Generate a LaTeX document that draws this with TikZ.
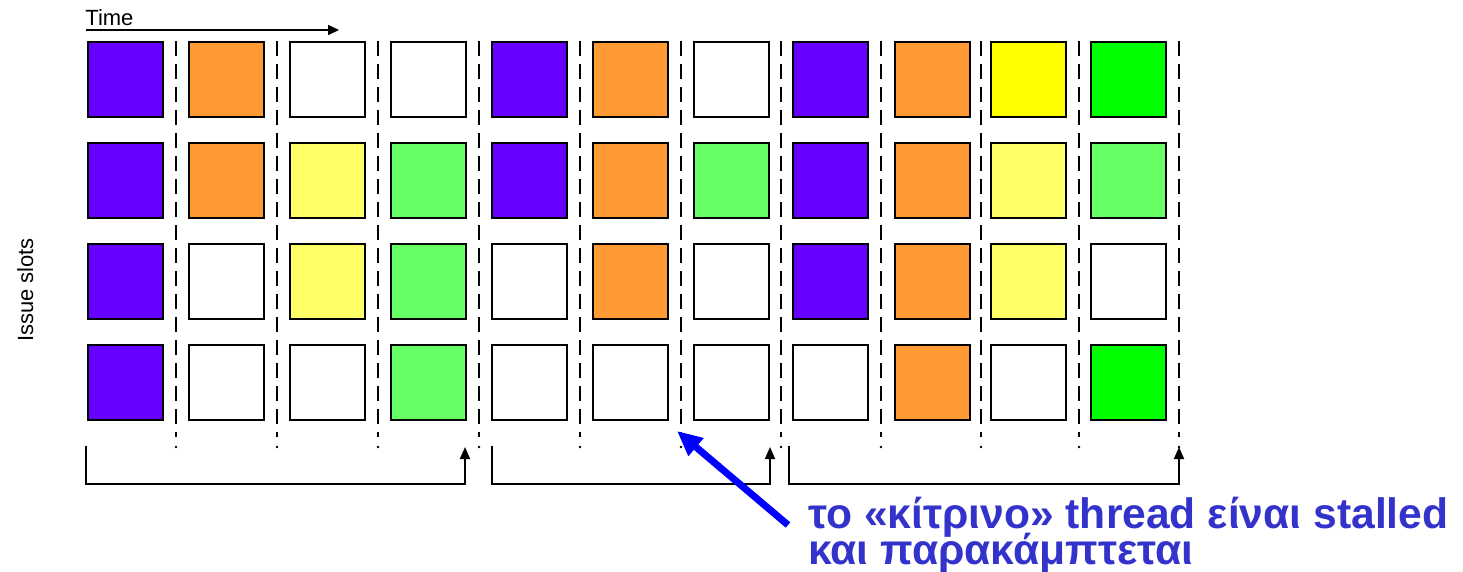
\documentclass[tikz,border=0pt]{standalone}
\usepackage{fontspec}
\setmainfont{Liberation Sans}
\usetikzlibrary{arrows.meta}
\definecolor{sPu}{HTML}{6600FF}
\definecolor{sOr}{HTML}{FF9933}
\definecolor{sWh}{HTML}{FFFFFF}
\definecolor{sYe}{HTML}{FFFF00}
\definecolor{sYl}{HTML}{FFFF66}
\definecolor{sGr}{HTML}{00FF00}
\definecolor{sGl}{HTML}{66FF66}
\definecolor{noteblue}{HTML}{3333CC}
\newcommand\mytightlines{\setlength{\lineskiplimit}{-30pt}\setlength{\lineskip}{0pt}}
\begin{document}
\begin{tikzpicture}[x=0.5pt,y=-0.5pt,
  slot/.style={draw=black,line width=1pt,minimum size=37.5pt,inner sep=0pt},
  sepline/.style={line width=1.1pt,dash pattern=on 7.5pt off 4pt},
  bracket/.style={line width=0.9pt,-{Triangle[length=6pt,width=5pt]}},
  label/.style={inner sep=0pt,font=\fontsize{11}{11}\selectfont},
  note/.style={inner sep=0pt,align=left,text=noteblue,font=\fontsize{21.3}{18}\selectfont\bfseries\mytightlines}]
\useasboundingbox (0,0) rectangle (1463,572);
% separator lines
\foreach \x in {176,277,378,479,580,681,781,881,981,1079,1179}{
  \draw[sepline] (\x,41) -- (\x,437);
  \fill (\x,447) circle (0.7pt);
}
% slots
\foreach \c [count=\i] in {sPu,sOr,sWh,sWh,sPu,sOr,sWh,sPu,sOr,sYe,sGr}{
  \pgfmathsetmacro\xx{{125,226,327,428,529,630,731,830,932,1028,1128}[\i-1]}
  \node[slot,fill=\c] (s1-\i) at (\xx,80) {};
}
\foreach \c [count=\i] in {sPu,sOr,sYl,sGl,sPu,sOr,sGl,sPu,sOr,sYl,sGl}{
  \pgfmathsetmacro\xx{{125,226,327,428,529,630,731,830,932,1028,1128}[\i-1]}
  \node[slot,fill=\c] (s2-\i) at (\xx,181) {};
}
\foreach \c [count=\i] in {sPu,sWh,sYl,sGl,sWh,sOr,sWh,sPu,sOr,sYl,sWh}{
  \pgfmathsetmacro\xx{{125,226,327,428,529,630,731,830,932,1028,1128}[\i-1]}
  \node[slot,fill=\c] (s3-\i) at (\xx,282) {};
}
\foreach \c [count=\i] in {sPu,sWh,sWh,sGl,sWh,sWh,sWh,sWh,sOr,sWh,sGr}{
  \pgfmathsetmacro\xx{{125,226,327,428,529,630,731,830,932,1028,1128}[\i-1]}
  \node[slot,fill=\c] (s4-\i) at (\xx,383) {};
}
% time axis
\node[label,anchor=base west] (time) at (85,26) {Time};
\coordinate (ts) at (86,30);
\coordinate (te) at (339,30);
\draw[line width=0.8pt,-{Triangle[length=5.5pt,width=5pt]}] (ts) -- (te);
% issue slots label
\node[label,rotate=90,anchor=base] (issue) at (33,290) {Issue slots};
% brackets
\coordinate (b1a) at (86,446);  \coordinate (b1b) at (465,447);
\coordinate (b2a) at (492,446); \coordinate (b2b) at (770,447);
\coordinate (b3a) at (789,446); \coordinate (b3b) at (1179,447);
\draw[bracket] (b1a) -- ++(0,38) -| (b1b);
\draw[bracket] (b2a) -- ++(0,38) -| (b2b);
\draw[bracket] (b3a) -- ++(0,38) -| (b3b);
% note
\node[note,anchor=base west] (note) at (808,564) {το «κίτρινο» thread είναι stalled\\και παρακάμπτεται};
\coordinate (bs) at (788,525);
\coordinate (bt) at (677,431);
\draw[line width=3.5pt,blue,-{Triangle[length=12.5pt,width=11pt]}] (bs) -- (bt);
\end{tikzpicture}
\end{document}
